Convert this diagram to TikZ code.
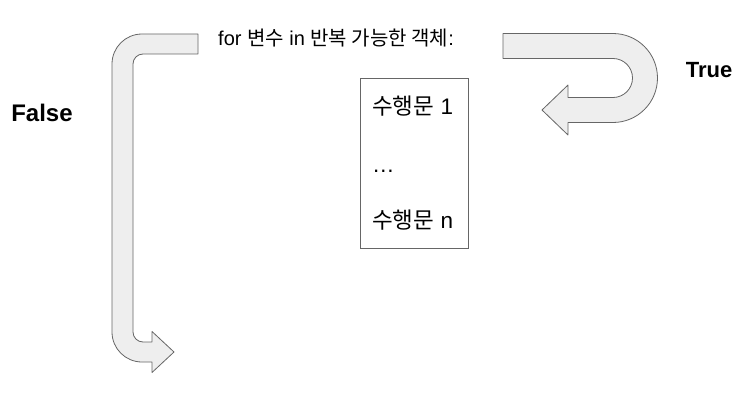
\documentclass[tikz,border=0pt]{standalone}
\usepackage{fontspec}
\setmainfont{Liberation Sans}
\newfontfamily\kr{Noto Sans CJK KR}
\usetikzlibrary{positioning}
\definecolor{arrowfill}{HTML}{EEEEEE}
\definecolor{arrowline}{HTML}{666666}

\begin{document}
\begin{tikzpicture}[
    x=1pt, y=1pt,
    bigarrow/.style={fill=arrowfill, draw=arrowline, line width=0.8pt, line join=round},
    head/.style={inner sep=0pt, anchor=base west, font=\fontsize{20}{24}\selectfont},
    stmt/.style={inner sep=0pt, anchor=base west, font=\fontsize{22.5}{26}\selectfont},
    answer/.style={inner sep=0pt, anchor=base, font=\bfseries},
]
\useasboundingbox (0,0) rectangle (756,400);

% Header line
\node[head] (forline) at (218,354) {for {\kr 변수} in {\kr 반복 가능한 객체}:};

% Loop body
\node[draw=arrowline, line width=0.8pt, minimum width=108pt, minimum height=170pt, inner sep=0pt] (body) at (414,237) {};
\node[stmt] (first) at (372,285) {{\kr 수행문} 1};
\node[stmt] (dots) at (372,228) {…};
\node[stmt] (last) at (372,172) {{\kr 수행문} n};

% True: back into the body
\draw[bigarrow] (503,366.5) -- (613,366.5)
    arc[start angle=90, end angle=-90, radius=44.5pt]
    -- (568,277.5) -- (568,265) -- (542,290) -- (568,315) -- (568,302.5) -- (613,302.5)
    arc[start angle=-90, end angle=90, radius=19.5pt]
    -- (503,341.5) -- cycle;
\node[answer, font=\fontsize{22}{26}\selectfont\bfseries] (true) at (709,322) {True};

% False: leave the loop
\draw[bigarrow] (198,366) -- (142,366)
    arc[start angle=90, end angle=180, radius=30pt]
    -- (112,68)
    arc[start angle=180, end angle=270, radius=30pt]
    -- (152,38) -- (152,27.5) -- (174,48) -- (152,68.5) -- (152,58) -- (143,58)
    arc[start angle=270, end angle=180, radius=10pt]
    -- (133,336)
    arc[start angle=180, end angle=90, radius=10pt]
    -- (198,346) -- cycle;
\node[answer, font=\fontsize{24}{28}\selectfont\bfseries] (false) at (42,279) {False};

\end{tikzpicture}
\end{document}
